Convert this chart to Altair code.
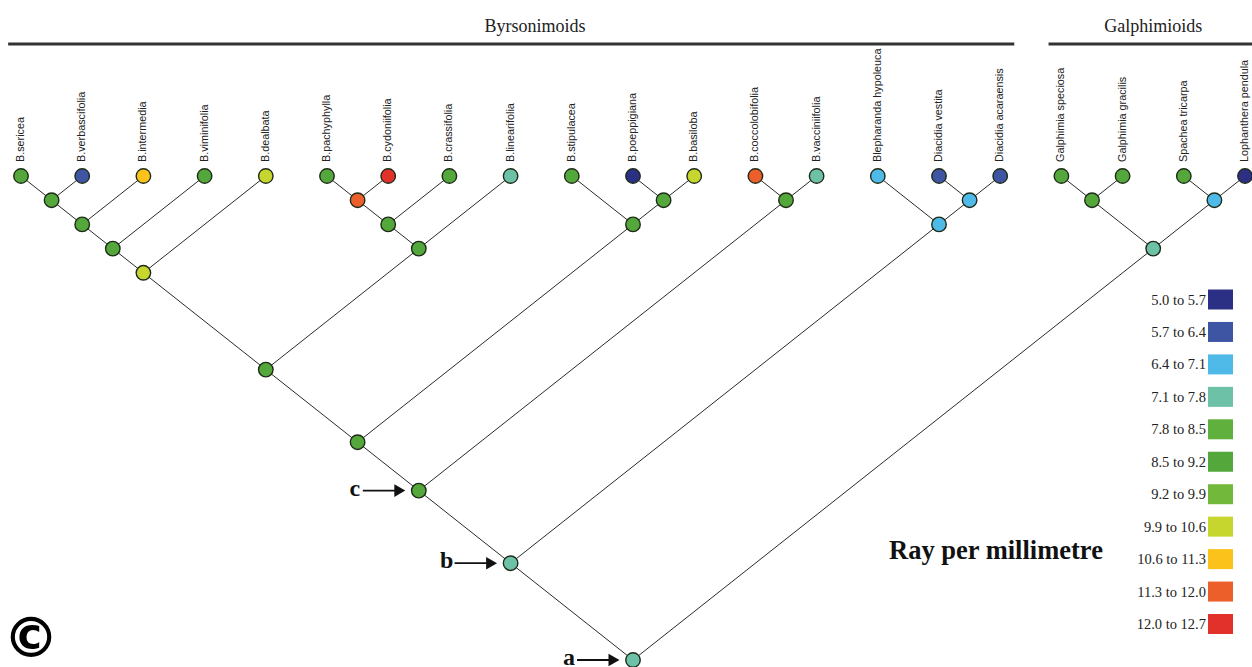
import altair as alt
import pandas as pd

# ---------------- data ----------------
tips = ["B.sericea", "B.verbascifolia", "B.intermedia", "B.viminifolia", "B.dealbata",
        "B.pachyphylla", "B.cydoniifolia", "B.crassifolia", "B.linearifolia",
        "B.stipulacea", "B.poeppigiana", "B.basiloba", "B.coccolobifolia",
        "B.vacciniifolia", "Blepharanda hypoleuca", "Diacidia vestita",
        "Diacidia acaraensis", "Galphimia speciosa", "Galphimia gracilis",
        "Spachea tricarpa", "Lophanthera pendula"]
tip_bins = ["8.5 to 9.2", "5.7 to 6.4", "10.6 to 11.3", "8.5 to 9.2", "9.9 to 10.6",
            "8.5 to 9.2", "12.0 to 12.7", "8.5 to 9.2", "7.1 to 7.8",
            "8.5 to 9.2", "5.0 to 5.7", "9.9 to 10.6", "11.3 to 12.0",
            "7.1 to 7.8", "6.4 to 7.1", "5.7 to 6.4",
            "5.7 to 6.4", "8.5 to 9.2", "8.5 to 9.2",
            "8.5 to 9.2", "5.0 to 5.7"]

clade_names = ["n1", "n2", "n3", "n4", "n5", "n6", "n7", "n8", "n9", "n10", "n11", "n12",
               "c", "n14", "n15", "b", "n17", "n18", "n19", "a"]
clade_left = ["B.sericea", "n1", "n2", "n3", "B.pachyphylla", "n5", "n6", "n4",
              "B.poeppigiana", "B.stipulacea", "n8", "B.coccolobifolia", "n11",
              "Diacidia vestita", "Blepharanda hypoleuca", "c", "Galphimia speciosa",
              "Spachea tricarpa", "n17", "b"]
clade_right = ["B.verbascifolia", "B.intermedia", "B.viminifolia", "B.dealbata",
               "B.cydoniifolia", "B.crassifolia", "B.linearifolia", "n7",
               "B.basiloba", "n9", "n10", "B.vacciniifolia", "n12",
               "Diacidia acaraensis", "n14", "n15", "Galphimia gracilis",
               "Lophanthera pendula", "n18", "n19"]
clade_bins = ["8.5 to 9.2", "8.5 to 9.2", "8.5 to 9.2", "9.9 to 10.6", "11.3 to 12.0",
              "8.5 to 9.2", "8.5 to 9.2", "8.5 to 9.2", "8.5 to 9.2", "8.5 to 9.2",
              "8.5 to 9.2", "8.5 to 9.2", "8.5 to 9.2", "6.4 to 7.1", "6.4 to 7.1",
              "7.1 to 7.8", "8.5 to 9.2", "6.4 to 7.1", "7.1 to 7.8", "7.1 to 7.8"]

legend_bins = ["5.0 to 5.7", "5.7 to 6.4", "6.4 to 7.1", "7.1 to 7.8", "7.8 to 8.5",
               "8.5 to 9.2", "9.2 to 9.9", "9.9 to 10.6", "10.6 to 11.3",
               "11.3 to 12.0", "12.0 to 12.7"]
legend_colors = ["#2c3085", "#3e55a3", "#4fb9e8", "#6dc1a6", "#5fb03c", "#54a83b",
                 "#72b83a", "#c6d62f", "#fbc21c", "#ec5e2a", "#e2302b"]

groups = ["Byrsonimoids", "Galphimioids"]
group_first_tip = [0, 17]
group_last_tip = [16, 20]
group_label_pos = [8.4, 18.5]

arrow_nodes = ["c", "b", "a"]
arrow_labels = ["c", "b", "a"]

# ---------------- layout (cladogram) ----------------
TIP_PX = 61.2      # px per tip
X0_PX = 21         # px of first tip
DEPTH_PX = 48.4    # px per depth unit
Y0_PX = 176        # px of tip row
W, H = 1252, 667


def px_x(px):
    return (px - X0_PX) / TIP_PX


def px_y(py):
    return (py - Y0_PX) / DEPTH_PX


span = {}
for i, t in enumerate(tips):
    span[t] = (i, i)
for n, l, r in zip(clade_names, clade_left, clade_right):
    span[n] = (span[l][0], span[r][1])


def node_xy(n):
    lo, hi = span[n]
    return (lo + hi) / 2.0, (hi - lo) / 2.0


node_rows = []
for t, b in zip(tips, tip_bins):
    x, y = node_xy(t)
    node_rows.append({"id": t, "x": x, "y": y, "bin": b})
for n, b in zip(clade_names, clade_bins):
    x, y = node_xy(n)
    node_rows.append({"id": n, "x": x, "y": y, "bin": b})
nodes = pd.DataFrame(node_rows)
tip_df = nodes[nodes["id"].isin(tips)].copy()

edge_rows = []
for n, l, r in zip(clade_names, clade_left, clade_right):
    px_, py_ = node_xy(n)
    for ch in (l, r):
        cx, cy = node_xy(ch)
        edge_rows.append({"x": px_, "y": py_, "x2": cx, "y2": cy})
edges = pd.DataFrame(edge_rows)

leg_rows = []
for i, (b, c) in enumerate(zip(legend_bins, legend_colors)):
    cy = 299.5 + 32.45 * i
    leg_rows.append({"bin": b, "x": px_x(1208), "x2": px_x(1233),
                     "xt": px_x(1206), "y": px_y(cy - 10), "y2": px_y(cy + 10),
                     "yt": px_y(cy + 1)})
leg = pd.DataFrame(leg_rows)

grp = pd.DataFrame({
    "name": groups,
    "x": [max(f - 0.21, px_x(0)) for f in group_first_tip],
    "x2": [min(l + 0.23, px_x(W)) for l in group_last_tip],
    "xt": group_label_pos,
    "y": [px_y(44)] * 2,
    "yt": [px_y(27)] * 2,
})

arr = pd.DataFrame([{"label": lab, "x": node_xy(n)[0], "y": node_xy(n)[1]}
                    for n, lab in zip(arrow_nodes, arrow_labels)])

# ---------------- scales ----------------
xs = alt.Scale(domain=[px_x(0), px_x(W)], nice=False, zero=False)
ys = alt.Scale(domain=[px_y(H), px_y(0)], nice=False, zero=False)


def X(f="x"):
    return alt.X(f + ":Q", scale=xs, axis=None)


def Y(f="y"):
    return alt.Y(f + ":Q", scale=ys, axis=None)


def F():
    return alt.Fill("bin:N", scale=alt.Scale(domain=legend_bins, range=legend_colors), legend=None)


edge_layer = alt.Chart(edges).mark_rule(color="#2a2a2a", strokeWidth=1).encode(
    x=X(), y=Y(), x2="x2:Q", y2="y2:Q")

node_layer = alt.Chart(nodes).mark_point(shape="circle", filled=True, size=210, opacity=1,
                                          stroke="#1e2a18", strokeWidth=1.4).encode(
    x=X(), y=Y(), fill=F())

tip_text = alt.Chart(tip_df).mark_text(angle=270, align="left", baseline="middle", dx=14,
                                        font="Liberation Sans", fontSize=10.8, color="#222222").encode(
    x=X(), y=Y(), text="id:N")

grp_rule = alt.Chart(grp).mark_rule(color="#333333", strokeWidth=3).encode(
    x=X(), x2="x2:Q", y=Y())
grp_text = alt.Chart(grp).mark_text(font="Liberation Serif", fontSize=18, color="#222222",
                                    baseline="middle").encode(
    x=X("xt"), y=Y("yt"), text="name:N")

leg_rect = alt.Chart(leg).mark_rect().encode(
    x=X(), x2="x2:Q", y=Y(), y2="y2:Q", fill=F())
leg_text = alt.Chart(leg).mark_text(align="right", baseline="middle", font="Liberation Serif",
                                    fontSize=14.5, color="#222222").encode(
    x=X("xt"), y=Y("yt"), text="bin:N")

title_df = pd.DataFrame({"t": ["Ray per millimetre"], "x": [px_x(889)], "y": [px_y(551)]})
title_layer = alt.Chart(title_df).mark_text(align="left", baseline="middle",
                                            font="Liberation Serif", fontWeight="bold",
                                            fontSize=26.5, color="#111111").encode(
    x=X(), y=Y(), text="t:N")

copy_df = pd.DataFrame({"t": ["©"], "x": [px_x(31)], "y": [px_y(640)]})
copy_layer = alt.Chart(copy_df).mark_text(align="center", baseline="middle",
                                          font="DejaVu Sans", fontWeight="bold",
                                          fontSize=56, color="#000000").encode(
    x=X(), y=Y(), text="t:N")

arr_text = alt.Chart(arr).mark_text(align="center", baseline="alphabetic", dx=-64, dy=5,
                                    font="Liberation Serif", fontWeight="bold",
                                    fontSize=24, color="#111111").encode(
    x=X(), y=Y(), text="label:N")
arr_line = alt.Chart(arr).mark_rule(color="#111111", strokeWidth=1.8,
                                    xOffset=-56, x2Offset=-22).encode(
    x=X(), x2="x:Q", y=Y())
arr_head = alt.Chart(arr).mark_point(shape="triangle-right", filled=True, opacity=1,
                                     color="#111111", size=160, xOffset=-19).encode(
    x=X(), y=Y())

chart = alt.layer(
    grp_rule, grp_text, edge_layer, node_layer, tip_text,
    leg_rect, leg_text, title_layer, copy_layer,
    arr_line, arr_head, arr_text
).properties(
    width=W, height=H, autosize=alt.AutoSizeParams(type="none"), padding=0,
    background="white"
).configure_view(stroke=None)

chart.save("out.html", embed_options={"renderer": "svg", "actions": False})
